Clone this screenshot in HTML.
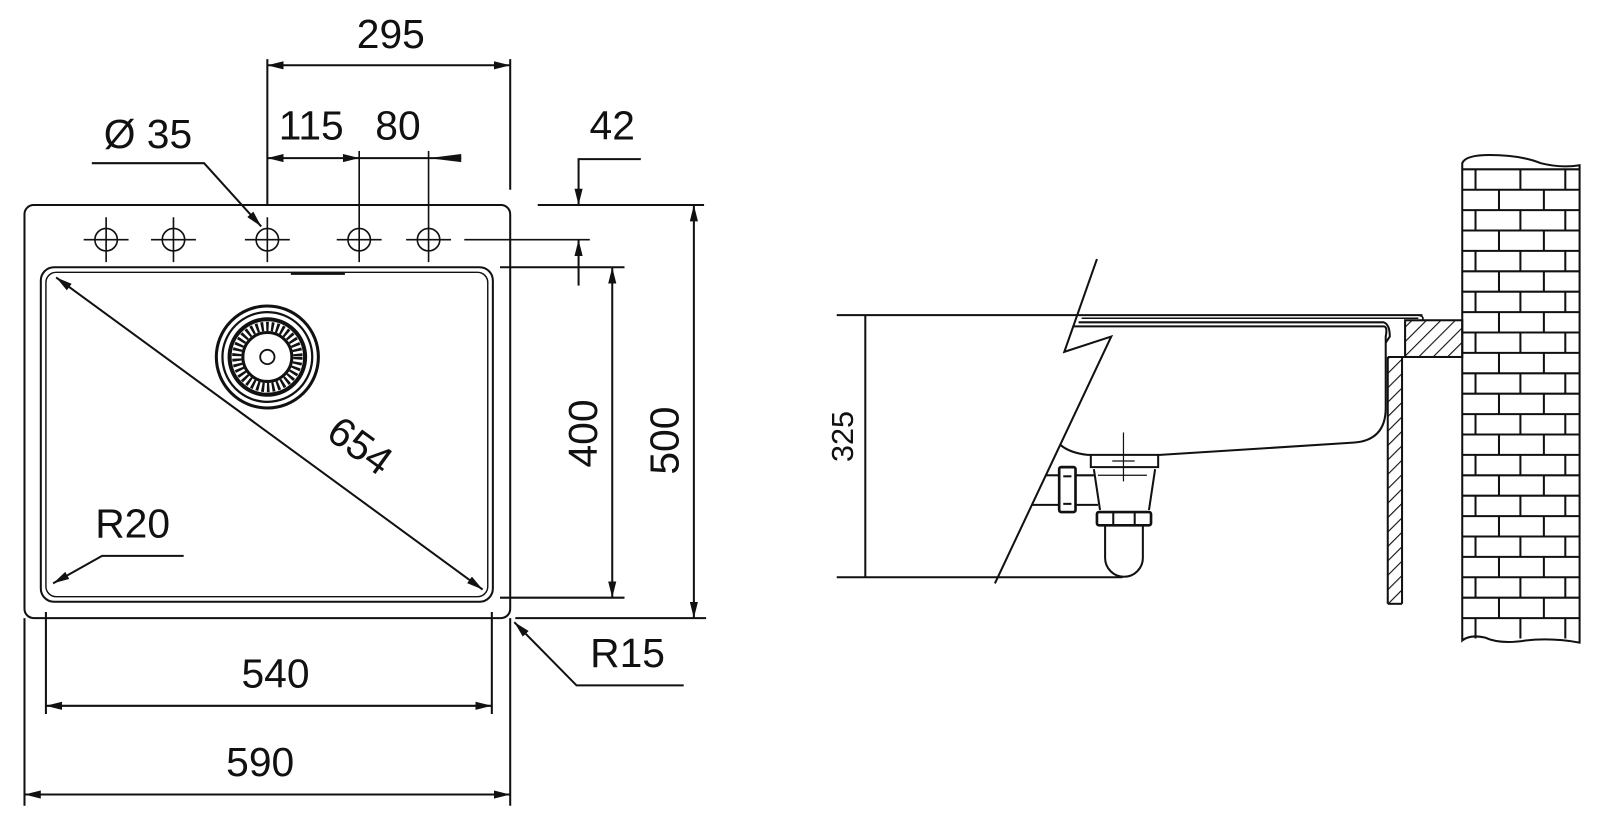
<!DOCTYPE html>
<html><head><meta charset="utf-8"><style>html,body{margin:0;padding:0;background:#fff}svg{display:block}</style></head><body>
<svg width="1600" height="818" viewBox="0 0 1568 802" preserveAspectRatio="none" xmlns="http://www.w3.org/2000/svg" font-family="Liberation Sans, Arial, sans-serif">
<defs>
<marker id="a" viewBox="0 0 16 8" refX="16" refY="4" markerWidth="16" markerHeight="8" markerUnits="userSpaceOnUse" orient="auto-start-reverse"><path d="M0,0 L16,4 L0,8 z" fill="#111"/></marker>
<pattern id="h" width="10" height="10" patternUnits="userSpaceOnUse" patternTransform="rotate(45)"><line x1="0" y1="0" x2="0" y2="10" stroke="#111" stroke-width="2.2"/></pattern>
</defs>
<g stroke="#111" fill="none" stroke-width="2">
<rect x="24" y="201" width="476" height="405" rx="9"/>
<rect x="40" y="262" width="443" height="328" rx="13"/>
<rect x="45" y="267" width="433" height="318" rx="10" stroke-width="1.4"/>
<line x1="285" y1="268" x2="338" y2="268" stroke-width="3"/>
<g stroke-width="1.6">
<circle cx="104" cy="235" r="11"/><line x1="82" y1="235" x2="126" y2="235"/><line x1="104" y1="213" x2="104" y2="257"/>
<circle cx="170" cy="235" r="11"/><line x1="148" y1="235" x2="192" y2="235"/><line x1="170" y1="213" x2="170" y2="257"/>
<circle cx="262" cy="235" r="11"/><line x1="240" y1="235" x2="284" y2="235"/><line x1="262" y1="213" x2="262" y2="257"/>
<circle cx="352" cy="235" r="11"/><line x1="330" y1="235" x2="374" y2="235"/><line x1="352" y1="148" x2="352" y2="257"/>
<circle cx="420" cy="235" r="11"/><line x1="398" y1="235" x2="442" y2="235"/><line x1="420" y1="148" x2="420" y2="257"/>
<line x1="455" y1="235" x2="578" y2="235"/>
</g>
<circle cx="262" cy="350" r="50" stroke-width="3"/>
<circle cx="262" cy="350" r="44" stroke-width="2.2"/>
<circle cx="262" cy="350" r="37" stroke-width="4"/>
<circle cx="262" cy="350" r="30" stroke-width="9" stroke-dasharray="2.5 2.5"/>
<circle cx="262" cy="350" r="24" stroke-width="3"/>
<circle cx="262" cy="350" r="7" stroke-width="1.8"/>
<line x1="262" y1="58" x2="262" y2="200"/><line x1="500" y1="58" x2="500" y2="186"/>
<line x1="262" y1="64" x2="500" y2="64" marker-start="url(#a)" marker-end="url(#a)"/>
<line x1="262" y1="155" x2="352" y2="155" marker-start="url(#a)" marker-end="url(#a)"/>
<line x1="352" y1="155" x2="452" y2="155"/>
<path d="M420,155 L452,151 L452,159 z" fill="#111" stroke="none"/>
<path d="M90,160 L200,160 L256,222" marker-end="url(#a)"/>
<path d="M628,156 L567,156 L567,201" marker-end="url(#a)"/>
<line x1="567" y1="280" x2="567" y2="235" marker-end="url(#a)"/>
<line x1="527" y1="201" x2="690" y2="201"/>
<line x1="490" y1="262" x2="612" y2="262"/>
<line x1="490" y1="586" x2="612" y2="586"/>
<line x1="505" y1="606" x2="692" y2="606"/>
<line x1="600" y1="262" x2="600" y2="586" marker-start="url(#a)" marker-end="url(#a)"/>
<line x1="680" y1="201" x2="680" y2="606" marker-start="url(#a)" marker-end="url(#a)"/>
<line x1="55" y1="272" x2="473" y2="578" marker-start="url(#a)" marker-end="url(#a)"/>
<path d="M180,545 L100,545 L52,572" marker-end="url(#a)"/>
<path d="M670,672 L565,672 L504,610" marker-end="url(#a)"/>
<line x1="45" y1="600" x2="45" y2="700"/><line x1="482" y1="600" x2="482" y2="700"/>
<line x1="45" y1="692" x2="482" y2="692" marker-start="url(#a)" marker-end="url(#a)"/>
<line x1="24" y1="606" x2="24" y2="790"/><line x1="500" y1="606" x2="500" y2="790"/>
<line x1="24" y1="779" x2="500" y2="779" marker-start="url(#a)" marker-end="url(#a)"/>
<line x1="820" y1="309" x2="1394" y2="309"/>
<line x1="1060" y1="312" x2="1390" y2="312" stroke-width="1.4"/>
<path d="M1057,316 L1356,316 Q1362,318 1362,330 L1358,336"/>
<path d="M1390,309 Q1396,310 1394,314 L1377,314 L1377,350" stroke-width="1.6"/>
<path d="M1052,320 L1356,320 Q1360,320 1358,330 L1358,400 Q1358,432 1326,434 L1137,446 L1066,446 Q1048,444 1039,436"/>
<line x1="820" y1="566" x2="1100" y2="566"/>
<line x1="848" y1="309" x2="848" y2="566"/>
<path d="M1075,254 L1043,345 L1089,330 L975,572"/>
<path d="M1069,446 L1069,458 L1135,458 L1135,446"/>
<path d="M1072,460 L1078,500 M1132,460 L1126,500"/>
<line x1="1076" y1="466" x2="1124" y2="466" stroke-width="1.2"/>
<line x1="1101" y1="424" x2="1101" y2="472" stroke-width="1.2"/>
<line x1="1090" y1="452" x2="1112" y2="452" stroke-width="1.2"/>
<rect x="1075" y="502" width="53" height="13" rx="2" stroke-width="2.6"/>
<line x1="1091" y1="503" x2="1091" y2="514"/><line x1="1112" y1="503" x2="1112" y2="514"/>
<path d="M1083,515 L1083,547 A18.5,18.5 0 0 0 1120,547 L1120,515"/>
<rect x="1038" y="458" width="16" height="44" rx="2" stroke-width="2.6"/>
<line x1="1042" y1="467" x2="1050" y2="467"/><line x1="1042" y1="494" x2="1050" y2="494"/>
<line x1="1025" y1="466" x2="1038" y2="466"/><line x1="1054" y1="466" x2="1072" y2="466"/>
<line x1="1012" y1="495" x2="1038" y2="495"/><line x1="1054" y1="495" x2="1076" y2="495"/>
<rect x="1360" y="350" width="14" height="242" fill="url(#h)" stroke="none"/>
<line x1="1360" y1="350" x2="1360" y2="592"/><line x1="1374" y1="350" x2="1374" y2="592"/><line x1="1360" y1="592" x2="1374" y2="592"/>
<rect x="1377" y="314" width="56" height="36" fill="url(#h)"/>
<line x1="1377" y1="350" x2="1360" y2="350"/>
<path d="M1433,160 Q1436,152 1460,152 Q1490,152 1510,160 Q1530,165 1548,162 L1548,630 Q1520,625 1495,628 Q1470,632 1455,625 Q1440,622 1433,628 Z" stroke-width="2"/>
</g>
<g fill="#111" font-size="40">
<text x="383" y="47" text-anchor="middle">295</text>
<text x="305" y="137" text-anchor="middle">115</text>
<text x="390" y="137" text-anchor="middle">80</text>
<text x="145" y="145" text-anchor="middle">Ø 35</text>
<text x="600" y="137" text-anchor="middle">42</text>
<text x="130" y="527" text-anchor="middle">R20</text>
<text x="615" y="654" text-anchor="middle">R15</text>
<text x="270" y="674" text-anchor="middle">540</text>
<text x="255" y="761" text-anchor="middle">590</text>
<text transform="translate(585,425) rotate(-90)" text-anchor="middle">400</text>
<text transform="translate(665,432) rotate(-90)" text-anchor="middle">500</text>
<text transform="translate(345,448) rotate(36)" text-anchor="middle">654</text>
<text transform="translate(836,428) rotate(-90)" text-anchor="middle" font-size="30">325</text>
</g>
<g stroke="#111" stroke-width="2">
<line x1="1433" y1="166" x2="1548" y2="166"/><line x1="1446" y1="166" x2="1446" y2="186"/><line x1="1490" y1="166" x2="1490" y2="186"/><line x1="1534" y1="166" x2="1534" y2="186"/>
<line x1="1433" y1="186" x2="1548" y2="186"/><line x1="1469" y1="186" x2="1469" y2="206"/><line x1="1513" y1="186" x2="1513" y2="206"/>
<line x1="1433" y1="206" x2="1548" y2="206"/><line x1="1446" y1="206" x2="1446" y2="226"/><line x1="1490" y1="206" x2="1490" y2="226"/><line x1="1534" y1="206" x2="1534" y2="226"/>
<line x1="1433" y1="226" x2="1548" y2="226"/><line x1="1469" y1="226" x2="1469" y2="246"/><line x1="1513" y1="226" x2="1513" y2="246"/>
<line x1="1433" y1="246" x2="1548" y2="246"/><line x1="1446" y1="246" x2="1446" y2="266"/><line x1="1490" y1="246" x2="1490" y2="266"/><line x1="1534" y1="246" x2="1534" y2="266"/>
<line x1="1433" y1="266" x2="1548" y2="266"/><line x1="1469" y1="266" x2="1469" y2="286"/><line x1="1513" y1="266" x2="1513" y2="286"/>
<line x1="1433" y1="286" x2="1548" y2="286"/><line x1="1446" y1="286" x2="1446" y2="306"/><line x1="1490" y1="286" x2="1490" y2="306"/><line x1="1534" y1="286" x2="1534" y2="306"/>
<line x1="1433" y1="306" x2="1548" y2="306"/><line x1="1469" y1="306" x2="1469" y2="326"/><line x1="1513" y1="306" x2="1513" y2="326"/>
<line x1="1433" y1="326" x2="1548" y2="326"/><line x1="1446" y1="326" x2="1446" y2="346"/><line x1="1490" y1="326" x2="1490" y2="346"/><line x1="1534" y1="326" x2="1534" y2="346"/>
<line x1="1433" y1="346" x2="1548" y2="346"/><line x1="1469" y1="346" x2="1469" y2="366"/><line x1="1513" y1="346" x2="1513" y2="366"/>
<line x1="1433" y1="366" x2="1548" y2="366"/><line x1="1446" y1="366" x2="1446" y2="386"/><line x1="1490" y1="366" x2="1490" y2="386"/><line x1="1534" y1="366" x2="1534" y2="386"/>
<line x1="1433" y1="386" x2="1548" y2="386"/><line x1="1469" y1="386" x2="1469" y2="406"/><line x1="1513" y1="386" x2="1513" y2="406"/>
<line x1="1433" y1="406" x2="1548" y2="406"/><line x1="1446" y1="406" x2="1446" y2="426"/><line x1="1490" y1="406" x2="1490" y2="426"/><line x1="1534" y1="406" x2="1534" y2="426"/>
<line x1="1433" y1="426" x2="1548" y2="426"/><line x1="1469" y1="426" x2="1469" y2="446"/><line x1="1513" y1="426" x2="1513" y2="446"/>
<line x1="1433" y1="446" x2="1548" y2="446"/><line x1="1446" y1="446" x2="1446" y2="466"/><line x1="1490" y1="446" x2="1490" y2="466"/><line x1="1534" y1="446" x2="1534" y2="466"/>
<line x1="1433" y1="466" x2="1548" y2="466"/><line x1="1469" y1="466" x2="1469" y2="486"/><line x1="1513" y1="466" x2="1513" y2="486"/>
<line x1="1433" y1="486" x2="1548" y2="486"/><line x1="1446" y1="486" x2="1446" y2="506"/><line x1="1490" y1="486" x2="1490" y2="506"/><line x1="1534" y1="486" x2="1534" y2="506"/>
<line x1="1433" y1="506" x2="1548" y2="506"/><line x1="1469" y1="506" x2="1469" y2="526"/><line x1="1513" y1="506" x2="1513" y2="526"/>
<line x1="1433" y1="526" x2="1548" y2="526"/><line x1="1446" y1="526" x2="1446" y2="546"/><line x1="1490" y1="526" x2="1490" y2="546"/><line x1="1534" y1="526" x2="1534" y2="546"/>
<line x1="1433" y1="546" x2="1548" y2="546"/><line x1="1469" y1="546" x2="1469" y2="566"/><line x1="1513" y1="546" x2="1513" y2="566"/>
<line x1="1433" y1="566" x2="1548" y2="566"/><line x1="1446" y1="566" x2="1446" y2="586"/><line x1="1490" y1="566" x2="1490" y2="586"/><line x1="1534" y1="566" x2="1534" y2="586"/>
<line x1="1433" y1="586" x2="1548" y2="586"/><line x1="1469" y1="586" x2="1469" y2="606"/><line x1="1513" y1="586" x2="1513" y2="606"/>
<line x1="1433" y1="606" x2="1548" y2="606"/><line x1="1446" y1="606" x2="1446" y2="626"/><line x1="1490" y1="606" x2="1490" y2="626"/><line x1="1534" y1="606" x2="1534" y2="626"/>
</g>
</svg>
</body></html>
